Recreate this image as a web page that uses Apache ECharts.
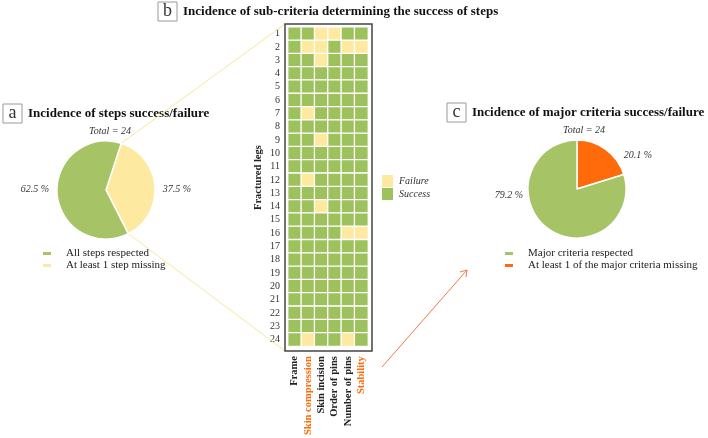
<!DOCTYPE html>
<html><head><meta charset="utf-8">
<script src="https://cdn.jsdelivr.net/npm/echarts@6/dist/echarts.min.js"></script>
<style>html,body{margin:0;padding:0;background:#fff}#c{width:708px;height:438px}</style>
</head><body><div id="c"></div>
<script>
// ---------- data ----------
const legs = ['1','2','3','4','5','6','7','8','9','10','11','12','13','14','15','16','17','18','19','20','21','22','23','24'];
const criteria = ['Frame','Skin compression','Skin incision','Order of pins','Number of pins','Stability'];
const majorCriteria = ['Skin compression','Stability'];
// 1 = failure, 0 = success (one row per fractured leg, columns follow criteria)
const failures = [
  [0,0,1,1,0,0],
  [0,1,1,0,1,1],
  [0,0,1,0,0,0],
  [0,0,0,0,0,0],
  [0,0,0,0,0,0],
  [0,0,0,0,0,0],
  [0,1,0,0,0,0],
  [0,0,0,0,0,0],
  [0,0,1,0,0,0],
  [0,0,0,0,0,0],
  [0,0,0,0,0,0],
  [0,1,0,0,0,0],
  [0,0,0,0,0,0],
  [0,0,1,0,0,0],
  [0,0,0,0,0,0],
  [0,0,0,0,1,1],
  [0,0,0,0,0,0],
  [0,0,0,0,0,0],
  [0,0,0,0,0,0],
  [0,0,0,0,0,0],
  [0,0,0,0,0,0],
  [0,0,0,0,0,0],
  [0,0,0,0,0,0],
  [0,1,0,0,1,0]
];
const statusLabels = ['Failure','Success'];
const stepNames = ['At least 1 step missing','All steps respected'];
const stepValues = [37.5, 62.5];
const majorNames = ['At least 1 of the major criteria missing','Major criteria respected'];
const majorValues = [20.1, 79.2];
const totalText = 'Total = 24';

// ---------- style ----------
const GREEN = '#a6c466', HGREEN = '#9dc15c', YELLOW = '#fde9a0', ORANGE = '#ff6a0a';
const SERIF = '"Liberation Serif", "Times New Roman", serif';
const TXT = '#222';

const heatData = [];
failures.forEach((row, r) => row.forEach((v, c) => heatData.push([c, r, v])));

const pieA = {c: [106, 190], r: 49, start: 72};
const pieC = {c: [577, 189], r: 49, start: 90};
function rim(p, degFromTop) {
  const a = degFromTop * Math.PI / 180;
  return [p.c[0] + p.r * Math.sin(a), p.c[1] - p.r * Math.cos(a)];
}
const aTop = rim(pieA, 90 - pieA.start);
const aBot = rim(pieA, 90 - pieA.start + 360 * stepValues[0] / (stepValues[0] + stepValues[1]));

function panelTitle(letter, x, y, text) {
  return [
    {type: 'rect', shape: {x: x, y: y, width: 19, height: 19}, style: {fill: '#fff', stroke: '#9a9a9a', lineWidth: 1}},
    {type: 'text', x: x + 9.5, y: y + 9, style: {text: letter, font: '18px ' + SERIF, fill: '#333', align: 'center', verticalAlign: 'middle'}},
    {type: 'text', x: x + 25, y: y + 10, style: {text: text, font: 'bold 13px ' + SERIF, fill: '#111', align: 'left', verticalAlign: 'middle'}}
  ];
}

const pieLabel = {show: true, position: 'inside', formatter: '{c} %', fontFamily: SERIF, fontStyle: 'italic', fontSize: 10, color: '#333'};

const chart = echarts.init(document.getElementById('c'), null, {renderer: 'canvas'});
chart.setOption({
  animation: false,
  backgroundColor: '#fff',
  grid: {left: 288, top: 27, width: 80, height: 320, containLabel: false},
  xAxis: {
    type: 'category', data: criteria, position: 'bottom',
    axisLine: {show: false}, axisTick: {show: false}, splitLine: {show: false},
    axisLabel: {rotate: 90, margin: 10, interval: 0, fontFamily: SERIF, fontWeight: 'bold', fontSize: 10.5,
      color: (v) => majorCriteria.includes(v) ? ORANGE : TXT}
  },
  yAxis: {
    type: 'category', data: legs, inverse: true,
    axisLine: {show: false}, axisTick: {show: false}, splitLine: {show: false},
    axisLabel: {interval: 0, margin: 8, fontFamily: SERIF, fontSize: 10, color: '#333'},
    name: 'Fractured legs', nameLocation: 'middle', nameRotate: 90, nameGap: 24,
    nameTextStyle: {fontFamily: SERIF, fontWeight: 'bold', fontSize: 10.5, color: TXT, padding: [0, 0, 0, 18]}
  },
  visualMap: {
    type: 'piecewise', seriesIndex: 0, dimension: 2, orient: 'vertical', align: 'left',
    left: 367, top: 160, itemWidth: 11, itemHeight: 12, itemGap: 1, textGap: 6, itemSymbol: 'rect',
    selectedMode: false, hoverLink: false,
    pieces: [{value: 1, label: statusLabels[0], color: YELLOW}, {value: 0, label: statusLabels[1], color: HGREEN}],
    textStyle: {fontFamily: SERIF, fontStyle: 'italic', fontSize: 10, color: '#333'}
  },
  legend: [
    {data: [stepNames[1], stepNames[0]], orient: 'vertical', left: 36, top: 243, itemWidth: 10, itemHeight: 5, itemGap: 1,
      icon: 'rect', selectedMode: false, textStyle: {fontFamily: SERIF, fontSize: 11, color: TXT, padding: [0, 0, 0, 9]}},
    {data: [majorNames[1], majorNames[0]], orient: 'vertical', left: 498, top: 243, itemWidth: 10, itemHeight: 5, itemGap: 1,
      icon: 'rect', selectedMode: false, textStyle: {fontFamily: SERIF, fontSize: 11, color: TXT, padding: [0, 0, 0, 9]}}
  ],
  series: [
    {
      type: 'heatmap', data: heatData, silent: true,
      itemStyle: {borderColor: '#fff', borderWidth: 1.3}
    },
    {
      type: 'pie', center: pieA.c, radius: pieA.r, startAngle: pieA.start, clockwise: true, silent: true,
      data: stepNames.map((n, i) => ({name: n, value: stepValues[i], itemStyle: {color: i === 0 ? YELLOW : GREEN}})),
      itemStyle: {borderColor: '#fff', borderWidth: 1.5},
      label: pieLabel,
      labelLine: {show: false},
      labelLayout: (p) => p.dataIndex === 0
        ? {x: pieA.c[0] + pieA.r + 22, y: pieA.c[1] - 1, align: 'center', verticalAlign: 'middle'}
        : {x: pieA.c[0] - pieA.r - 22, y: pieA.c[1] - 1, align: 'center', verticalAlign: 'middle'}
    },
    {
      type: 'pie', center: pieC.c, radius: pieC.r, startAngle: pieC.start, clockwise: true, silent: true,
      data: majorNames.map((n, i) => ({name: n, value: majorValues[i], itemStyle: {color: i === 0 ? ORANGE : GREEN}})),
      itemStyle: {borderColor: '#fff', borderWidth: 1.5},
      label: pieLabel,
      labelLine: {show: false},
      labelLayout: (p) => p.dataIndex === 0
        ? {x: pieC.c[0] + 61, y: pieC.c[1] - 34, align: 'center', verticalAlign: 'middle'}
        : {x: pieC.c[0] - pieC.r - 19, y: pieC.c[1] + 6, align: 'center', verticalAlign: 'middle'}
    }
  ],
  graphic: [].concat(
    panelTitle('b', 158, 2, 'Incidence of sub-criteria determining the success of steps'),
    panelTitle('a', 3, 104, 'Incidence of steps success/failure'),
    panelTitle('c', 447, 103, 'Incidence of major criteria success/failure'),
    [
      {type: 'rect', z: 10, shape: {x: 285, y: 24, width: 87, height: 327}, style: {fill: 'none', stroke: '#444', lineWidth: 1.5}},
      {type: 'line', z: 1, shape: {x1: aTop[0], y1: aTop[1], x2: 285, y2: 24}, style: {stroke: '#f6e89c', lineWidth: 1}},
      {type: 'line', z: 1, shape: {x1: aBot[0], y1: aBot[1], x2: 285, y2: 351}, style: {stroke: '#f6e89c', lineWidth: 1}},
      {type: 'line', shape: {x1: 382, y1: 367, x2: 467, y2: 270}, style: {stroke: '#f47a45', lineWidth: 1}},
      {type: 'polyline', shape: {points: [[460, 272], [467, 270], [466, 277]]}, style: {stroke: '#f47a45', lineWidth: 1, fill: 'none'}},
      {type: 'text', x: pieA.c[0] + 4, y: 131, style: {text: totalText, font: 'italic 10px ' + SERIF, fill: '#333', align: 'center', verticalAlign: 'middle'}},
      {type: 'text', x: pieC.c[0] + 7, y: 130, style: {text: totalText, font: 'italic 10px ' + SERIF, fill: '#333', align: 'center', verticalAlign: 'middle'}}
    ]
  )
});
</script></body></html>
